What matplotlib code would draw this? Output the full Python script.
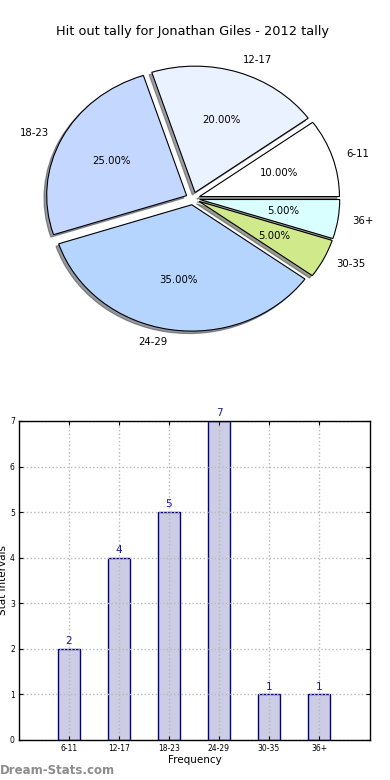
import matplotlib
matplotlib.use("Agg")
import matplotlib.pyplot as plt

categories = ["6-11", "12-17", "18-23", "24-29", "30-35", "36+"]
counts = [2, 4, 5, 7, 1, 1]
pie_colors = ["#ffffff", "#eaf1ff", "#c4d7ff", "#b5d5ff", "#cfe98b", "#d9ffff"]
title = "Hit out tally for Jonathan Giles - 2012 tally"

fig = plt.figure(figsize=(3.9, 7.8), dpi=100)

# Pie chart
axp = fig.add_axes([0.046, 0.543, 0.897, 0.405])
wedges, texts, autotexts = axp.pie(
    counts, labels=categories, colors=pie_colors, autopct="%.2f%%",
    explode=[0.05] * len(counts),
    shadow=dict(ox=-0.014, oy=-0.014, shade=0.75), startangle=0,
    wedgeprops=dict(edgecolor="black", linewidth=0.8),
    textprops=dict(fontsize=7.3, color="black"))
axp.set_aspect("auto")
axp.set_xlim(-1.25, 1.25)
axp.set_ylim(-1.25, 1.25)
axp.set_title(title, fontsize=9.3, pad=4)

# Bar chart
axb = fig.add_axes([0.0487, 0.0513, 0.9, 0.409])
x = list(range(len(categories)))
bars = axb.bar(x, counts, width=0.45, facecolor=(0, 0, 0.5, 0.2),
               edgecolor="navy", linewidth=1.0, zorder=1)
for xi, c in zip(x, counts):
    axb.annotate(str(c), (xi, c), xytext=(0, 2), textcoords="offset points",
                 ha="center", va="bottom", fontsize=7.5, color="#1a1a99")
axb.set_xlim(-1, 6.02)
axb.set_ylim(0, 7)
axb.set_xticks(x)
axb.set_xticklabels(categories)
axb.set_yticks(range(0, 8))
axb.tick_params(direction="in", top=True, right=True, labelsize=5.5, length=3,
                width=0.8, pad=3)
axb.grid(True, linestyle=":", color="#b8b8b8", linewidth=1.0, zorder=2)
axb.set_axisbelow(False)
for s in axb.spines.values():
    s.set_linewidth(1.0)
    s.set_zorder(5)
axb.set_xlabel("Frequency", fontsize=7.5, labelpad=1)
axb.set_ylabel("Stat Intervals", fontsize=7.5)
axb.yaxis.set_label_coords(-0.032, 0.5)

fig.text(0.0, 0.012, "Dream-Stats.com", fontsize=8.5, color="#8c8c8c",
         ha="left", va="center", fontweight="semibold")

fig.savefig("out.png", dpi=100)
